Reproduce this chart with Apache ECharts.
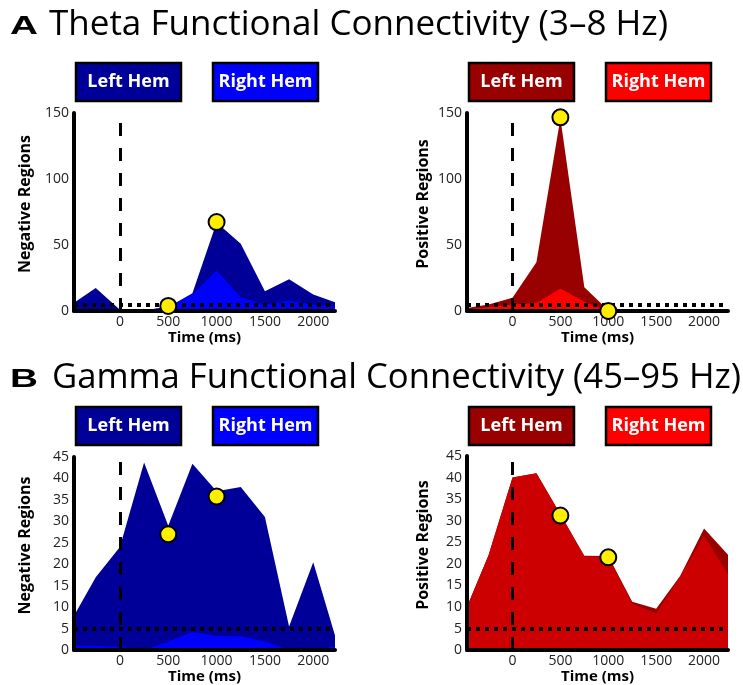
<!DOCTYPE html>
<html>
<head>
<meta charset="utf-8">
<script src="https://cdn.jsdelivr.net/npm/echarts@6/dist/echarts.min.js"></script>
<style>
html,body{margin:0;padding:0;background:#fff;}
#chart{width:743px;height:685px;}
</style>
</head>
<body>
<div id="chart"></div>
<script>
// ---------- data ----------
const TIME_MS = [-500, -250, 0, 250, 500, 750, 1000, 1250, 1500, 1750, 2000, 2250];
const X_TICKS = [0, 500, 1000, 1500, 2000];
const THETA_Y_TICKS = [0, 50, 100, 150];
const GAMMA_Y_TICKS = [0, 5, 10, 15, 20, 25, 30, 35, 40, 45];

const THETA_NEG_LEFT  = [5, 17.5, 1, 0.5, 3, 13.5, 67, 51, 15, 24, 12.5, 6];
const THETA_NEG_RIGHT = [2, 1, 0, 0.5, 3, 12.5, 30.5, 10.5, 4.5, 8, 4.5, 3];
const THETA_POS_LEFT  = [2, 5, 10, 37, 146, 18, 0.5, 1, 1.5, 1, 0.5, 0.5];
const THETA_POS_RIGHT = [1, 3, 5, 6, 17, 7, 0, 0.3, 0.5, 0.3, 0.2, 0.2];
const GAMMA_NEG_LEFT  = [7, 17, 24, 43.7, 29, 43.4, 37, 38, 31, 5.5, 20.5, 1.5];
const GAMMA_NEG_RIGHT = [1, 1, 0.8, 0, 2, 4.2, 3.3, 3.2, 2, 0, 0, 1];
const GAMMA_POS_LEFT  = [8.7, 22, 40, 41, 31.5, 21.9, 21.8, 11.2, 9.6, 17.2, 28.2, 22.1];
const GAMMA_POS_RIGHT = [8.7, 22, 40, 41, 31.5, 21.7, 21.6, 10.8, 8.5, 17, 26.5, 17.6];

const THETA_NEG_MARKERS = [[500, 3.8], [1000, 67.4]];
const THETA_POS_MARKERS = [[500, 146.7], [1000, 0]];
const GAMMA_NEG_MARKERS = [[500, 27], [1000, 35.8]];
const GAMMA_POS_MARKERS = [[500, 31.2], [1000, 21.5]];

const THRESHOLD = 5;
const ONSET_MS = 0;
const LEGEND_LABELS = ['Left Hem', 'Right Hem'];
const TITLE_A = ['A', 'Theta Functional Connectivity (3\u20138 Hz)'];
const TITLE_B = ['B', 'Gamma Functional Connectivity (45\u201395 Hz)'];

// ---------- styles ----------
const FONT = "'Open Sans', 'Noto Sans', sans-serif";
const C = {
  darkBlue: '#000099', blue: '#0000ff',
  darkRed: '#990000', red: '#ff0000', midRed: '#cc0000',
  yellow: '#ffee00'
};

const panels = [
  {grid: {left: 74, top: 113, width: 261, height: 198}, xmax: 2225, ymax: 150, interval: 50, yticks: THETA_Y_TICKS,
   name: 'Negative Regions', gap: 41, back: THETA_NEG_LEFT, front: THETA_NEG_RIGHT,
   backColor: C.darkBlue, frontColor: C.blue, markers: THETA_NEG_MARKERS},
  {grid: {left: 467, top: 113, width: 261, height: 198}, xmax: 2250, ymax: 150, interval: 50, yticks: THETA_Y_TICKS,
   name: 'Positive Regions', gap: 36, back: THETA_POS_LEFT, front: THETA_POS_RIGHT,
   backColor: C.darkRed, frontColor: C.red, markers: THETA_POS_MARKERS},
  {grid: {left: 74, top: 457, width: 261, height: 197}, xmax: 2225, ymax: 45, interval: 5, yticks: GAMMA_Y_TICKS,
   name: 'Negative Regions', gap: 41, back: GAMMA_NEG_LEFT, front: GAMMA_NEG_RIGHT,
   backColor: C.darkBlue, frontColor: C.blue, markers: GAMMA_NEG_MARKERS},
  {grid: {left: 467, top: 456, width: 261, height: 198}, xmax: 2250, ymax: 45, interval: 5, yticks: GAMMA_Y_TICKS,
   name: 'Positive Regions', gap: 36, back: GAMMA_POS_LEFT, front: GAMMA_POS_RIGHT,
   backColor: C.darkRed, frontColor: C.midRed, markers: GAMMA_POS_MARKERS}
];

const pairs = (vals) => TIME_MS.map((t, i) => [t, vals[i]]);
const plain = (v) => String(v);

const grids = [], xAxes = [], yAxes = [], series = [];
panels.forEach((p, i) => {
  grids.push(Object.assign({containLabel: false}, p.grid));
  xAxes.push({
    type: 'value', gridIndex: i, min: -475, max: p.xmax, z: 3,
    name: 'Time (ms)', nameLocation: 'middle', nameGap: 15,
    nameTextStyle: {fontFamily: FONT, fontWeight: 'bold', fontSize: 15, color: '#000'},
    axisLine: {show: true, onZero: false, lineStyle: {color: '#000', width: 4}},
    axisTick: {show: false},
    splitLine: {show: false},
    axisLabel: {customValues: X_TICKS, formatter: plain, margin: 4, fontFamily: FONT, fontSize: 14, color: '#222'}
  });
  yAxes.push({
    type: 'value', gridIndex: i, min: 0, max: p.ymax, interval: p.interval, z: 3,
    name: p.name, nameLocation: 'middle', nameGap: p.gap, nameRotate: 90,
    nameTextStyle: {fontFamily: FONT, fontWeight: 'bold', fontSize: 16, color: '#000', padding: [0, 0, 0, 16]},
    axisLine: {show: true, onZero: false, lineStyle: {color: '#000', width: 4}},
    axisTick: {show: false},
    splitLine: {show: false},
    axisLabel: {customValues: p.yticks, formatter: plain, margin: 5, fontFamily: FONT, fontSize: 14, color: '#222'}
  });
  series.push({
    type: 'line', xAxisIndex: i, yAxisIndex: i, data: pairs(p.back), showSymbol: false, symbol: 'none',
    lineStyle: {width: 0}, areaStyle: {color: p.backColor, opacity: 1}, z: 1, silent: true
  });
  series.push({
    type: 'line', xAxisIndex: i, yAxisIndex: i, data: pairs(p.front), showSymbol: false, symbol: 'none',
    lineStyle: {width: 0}, areaStyle: {color: p.frontColor, opacity: 1}, z: 2, silent: true,
    markLine: {
      silent: true, symbol: 'none', label: {show: false}, animation: false,
      data: [
        {xAxis: ONSET_MS, lineStyle: {type: [13, 12], width: 3, color: '#000', cap: 'butt'}},
        {yAxis: THRESHOLD, lineStyle: {type: [4, 5], width: 4, color: '#000', cap: 'butt'}}
      ]
    }
  });
  series.push({
    type: 'scatter', xAxisIndex: i, yAxisIndex: i, data: p.markers, symbol: 'circle', symbolSize: 16,
    itemStyle: {color: C.yellow, borderColor: '#000', borderWidth: 2, opacity: 1}, z: 5, silent: true
  });
});

// legend boxes & titles
function legendBox(x, y, fill, label) {
  return {
    type: 'group', x: x, y: y, children: [
      {type: 'rect', shape: {x: 0, y: 0, width: 105, height: 38},
       style: {fill: fill, stroke: '#000', lineWidth: 2.5}},
      {type: 'text', x: 52.5, y: 19,
       style: {text: label, fill: '#fff', font: 'bold 18px ' + FONT, align: 'center', verticalAlign: 'middle'}}
    ]
  };
}
function titleText(x, y, tx, sx, parts) {
  return [
    {type: 'text', x: x, y: y + 2, scaleX: 1.55,
     style: {text: parts[0], fill: '#000', font: 'bold 25px Liberation Sans, Arial, sans-serif', align: 'left', verticalAlign: 'middle'}},
    {type: 'text', x: tx, y: y, scaleX: sx,
     style: {text: parts[1], fill: '#000', font: '35px ' + FONT, align: 'left', verticalAlign: 'middle'}}
  ];
}

const graphics = [].concat(
  titleText(10, 25, 49, 1.0, TITLE_A),
  titleText(10, 378, 52, 0.99, TITLE_B),
  [
    legendBox(76, 63, C.darkBlue, LEGEND_LABELS[0]),
    legendBox(213, 63, C.blue, LEGEND_LABELS[1]),
    legendBox(469, 63, C.darkRed, LEGEND_LABELS[0]),
    legendBox(606, 63, C.red, LEGEND_LABELS[1]),
    legendBox(76, 407, C.darkBlue, LEGEND_LABELS[0]),
    legendBox(213, 407, C.blue, LEGEND_LABELS[1]),
    legendBox(469, 407, C.darkRed, LEGEND_LABELS[0]),
    legendBox(606, 407, C.red, LEGEND_LABELS[1])
  ]
);

const chart = echarts.init(document.getElementById('chart'), null, {renderer: 'canvas'});
chart.setOption({
  animation: false,
  backgroundColor: '#fff',
  grid: grids, xAxis: xAxes, yAxis: yAxes, series: series,
  graphic: graphics
});
</script>
</body>
</html>
